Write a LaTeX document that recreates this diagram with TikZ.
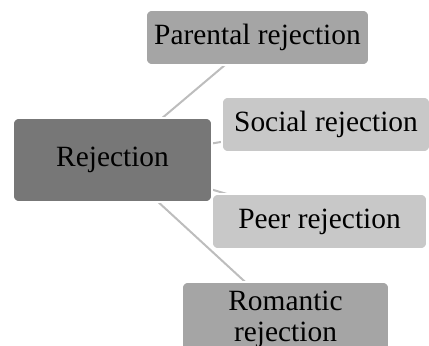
\documentclass[tikz,border=0pt]{standalone}
\usepackage{fontspec}
\setmainfont{Liberation Serif}
\usepackage{tikz}
\usetikzlibrary{positioning, backgrounds}

\definecolor{rootgray}{HTML}{777777}
\definecolor{midgray}{HTML}{A5A5A5}
\definecolor{leafgray}{HTML}{C8C8C8}
\definecolor{linkgray}{HTML}{BDBDBD}

\begin{document}
\begin{tikzpicture}[
  x=0.5pt, y=-0.5pt,
  font=\fontsize{14.7}{15.5}\selectfont,
  box/.style={draw=white, line width=0.8pt, rounded corners=3pt,
    align=center, inner sep=0pt},
  root/.style={box, fill=rootgray, minimum width=99.5pt, minimum height=42pt},
  mid/.style={box, fill=midgray, minimum height=27.5pt},
  leaf/.style={box, fill=leafgray, minimum height=27.5pt},
  link/.style={draw=linkgray, line width=1pt},
]
  \useasboundingbox (0,0) rectangle (429,345);
  \clip (0,0) rectangle (429,345);

  % Centre node
  \node[root] (rej) at (112.5,160) {Rejection};

  % Kinds of rejection
  \node[mid, minimum width=111.5pt] (par) at (257.5,37.5) {Parental rejection};
  \node[leaf, minimum width=104pt] (soc) at (326,124.5) {Social rejection};
  \node[leaf, minimum width=107.5pt] (peer) at (319.5,221.5) {Peer rejection};
  \node[mid, minimum width=103.5pt, minimum height=37pt] (rom) at (285.5,319)
    {Romantic\\rejection};

  % Links behind the boxes
  \begin{scope}[on background layer]
    \draw[link] (rej.center) -- (par.center);
    \draw[link] (rej.center) -- (soc.center);
    \draw[link] (rej.center) -- (peer.center);
    \draw[link] (rej.center) -- (rom.center);
  \end{scope}
\end{tikzpicture}
\end{document}
